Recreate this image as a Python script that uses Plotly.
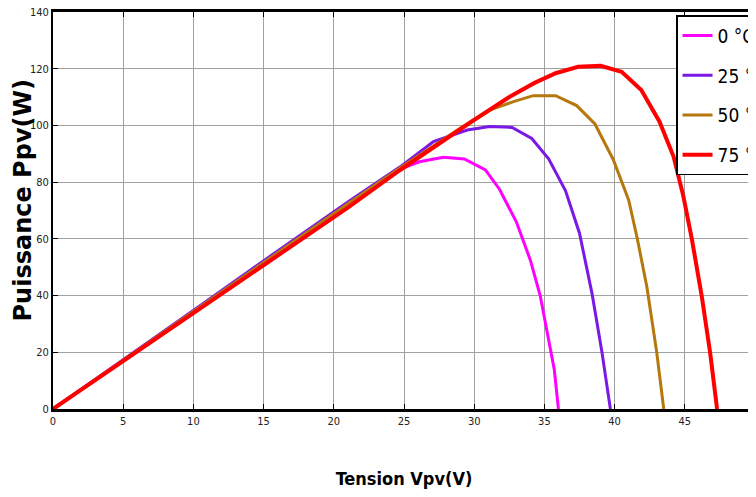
import plotly.graph_objects as go

# Data (Tension Vpv [V], Puissance Ppv [W])
v_0c = [0, 3.5, 7, 10.5, 14, 17.5, 21, 24.7, 26.1, 27.8, 29.3, 30.8, 31.8, 33.0, 34.0, 34.7, 35.3, 35.7, 36.0]
p_0c = [0, 12.1, 24.3, 36.3, 48.6, 60.6, 72.6, 84.6, 87.2, 88.8, 88.2, 84.3, 77.5, 66.0, 52.5, 40.0, 25.0, 14.0, 0]

v_25c = [0, 3.5, 7, 10.5, 14, 17.5, 21, 24.7, 27.1, 29.5, 31.1, 32.7, 34.1, 35.3, 36.5, 37.5, 38.4, 39.1, 39.7]
p_25c = [0, 12.1, 24.4, 36.5, 48.8, 61.0, 73.0, 85.3, 94.3, 98.4, 99.6, 99.3, 95.4, 88.2, 77.0, 62.0, 40.5, 20.0, 0]

v_50c = [0, 3.5, 7, 10.5, 14, 17.5, 21, 24.7, 27.0, 29.0, 31.1, 32.8, 34.2, 35.8, 37.3, 38.6, 39.9, 41.0, 41.6, 42.3, 43.0, 43.5]
p_50c = [0, 12.0, 24.1, 36.0, 48.2, 60.3, 72.4, 85.0, 92.5, 99.0, 105.4, 108.4, 110.5, 110.5, 107.0, 100.5, 88.0, 73.7, 60.5, 43.0, 20.0, 0]

v_75c = [0, 3.5, 7, 10.5, 14, 17.5, 21, 24.7, 27.3, 29.8, 32.5, 34.3, 35.8, 37.4, 39.0, 40.5, 41.9, 43.2, 44.2, 44.9, 45.5, 46.2, 46.8, 47.3]
p_75c = [0, 11.8, 23.6, 35.4, 47.3, 59.2, 71.0, 84.2, 93.0, 101.3, 110.0, 115.0, 118.4, 120.7, 121.0, 118.9, 112.5, 101.3, 89.0, 75.0, 60.0, 40.0, 20.0, 0]

labels = ["0 °C", "25 °C", "50 °C", "75 °C"]
colors = ["#FF00FF", "#7A18E6", "#B5780C", "#FF0000"]
widths = [3, 3, 3, 4]

x_ticks = [0, 5, 10, 15, 20, 25, 30, 35, 40, 45, 50]
y_ticks = [0, 20, 40, 60, 80, 100, 120, 140]

x_title = "Tension Vpv(V)"
y_title = "Puissance Ppv(W)"

series = [(v_0c, p_0c), (v_25c, p_25c), (v_50c, p_50c), (v_75c, p_75c)]

fig = go.Figure()
for (vx, py), name, c, w in zip(series, labels, colors, widths):
    fig.add_trace(go.Scatter(x=vx, y=py, mode="lines", name=name, legendgroup=name,
                             line=dict(color=c, width=w)))

cond = "DejaVu Sans Condensed, Liberation Sans, sans-serif"

fig.update_layout(
    width=756, height=497,
    margin=dict(l=45, r=9, t=4, b=96, autoexpand=False),
    plot_bgcolor="white", paper_bgcolor="white",
    font=dict(family=cond, color="#222"),
    showlegend=True,
    legend=dict(x=0.8875, y=0.992, xanchor="left", yanchor="top",
                bgcolor="white", bordercolor="black", borderwidth=1.5,
                font=dict(family=cond, size=19, color="black"),
                itemwidth=30, tracegroupgap=12),
    xaxis=dict(range=[0, 50], tickmode="array", tickvals=x_ticks,
               ticktext=[str(t) for t in x_ticks],
               showgrid=True, gridcolor="#a0a0a0", gridwidth=1,
               showline=True, linecolor="black", linewidth=2.5, mirror="ticks",
               ticks="inside", ticklen=5, tickcolor="black",
               tickfont=dict(family=cond, size=11, color="#222"),
               ticklabeloverflow="allow",
               zeroline=False, automargin=False,
               title=dict(text="<b>" + x_title + "</b>", standoff=46,
                          font=dict(family=cond, size=18, color="black"))),
    yaxis=dict(range=[0, 140], tickmode="array", tickvals=y_ticks,
               ticktext=[str(t) for t in y_ticks],
               showgrid=True, gridcolor="#a0a0a0", gridwidth=1,
               showline=True, linecolor="black", linewidth=2, mirror="ticks",
               ticks="inside", ticklen=5, tickcolor="black",
               tickfont=dict(family=cond, size=11, color="#222"),
               ticklabeloverflow="allow",
               zeroline=False, automargin=False),
    annotations=[dict(text="<b>" + y_title + "</b>", textangle=-90,
                      xref="paper", yref="paper", x=0, y=0.5,
                      xanchor="center", yanchor="middle",
                      xshift=-31, yshift=10, showarrow=False,
                      font=dict(family="DejaVu Sans, sans-serif", size=24, color="black"))],
)

fig.write_html("out.html")
